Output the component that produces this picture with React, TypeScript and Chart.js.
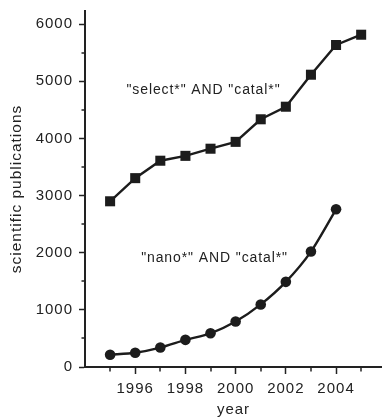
import { useEffect, useRef } from 'react';
import { Chart, registerables } from 'chart.js';

Chart.register(...registerables);

// ---- data ----
const selectYears = [1995, 1996, 1997, 1998, 1999, 2000, 2001, 2002, 2003, 2004, 2005];
const selectCatal = [2900, 3305, 3610, 3695, 3820, 3940, 4335, 4555, 5115, 5635, 5815];
const nanoYears = [1995, 1996, 1997, 1998, 1999, 2000, 2001, 2002, 2003, 2004];
const nanoCatal = [215, 250, 340, 475, 590, 795, 1095, 1490, 2020, 2760];

// tick positions (major ones carry labels)
const xTickValues = [1995, 1996, 1997, 1998, 1999, 2000, 2001, 2002, 2003, 2004, 2005];
const xTickLabels = ['', '1996', '', '1998', '', '2000', '', '2002', '', '2004', ''];
const yTickValues = [0, 500, 1000, 1500, 2000, 2500, 3000, 3500, 4000, 4500, 5000, 5500, 6000];
const yTickLabels = ['0', '', '1000', '', '2000', '', '3000', '', '4000', '', '5000', '', '6000'];

const selectLabel = '"select*" AND "catal*"';
const nanoLabel = '"nano*" AND "catal*"';
const selectLabelAt = { x: 1998.72, y: 4848 };
const nanoLabelAt = { x: 1999.16, y: 1900 };

const xTitle = 'year';
const yTitle = 'scientific publications';

const INK = '#222222';
const FONT = '"Liberation Sans", Arial, Helvetica, sans-serif';

const tickAndLabelPlugin = {
  id: 'customTicks',
  beforeDraw(chart: any) {
    (chart.ctx as any).letterSpacing = '1px';
  },
  afterDraw(chart: any) {
    const ctx = chart.ctx;
    const xs = chart.scales.x;
    const ys = chart.scales.y;
    const area = chart.chartArea;
    ctx.save();
    (ctx as any).letterSpacing = '0px';
    ctx.strokeStyle = INK;
    ctx.lineWidth = 1.5;
    for (const t of xs.ticks) {
      if (t.label !== '') continue;
      const px = Math.round(xs.getPixelForValue(t.value));
      ctx.beginPath();
      ctx.moveTo(px, area.bottom);
      ctx.lineTo(px, area.bottom + 4.5);
      ctx.stroke();
    }
    for (const t of ys.ticks) {
      if (t.label !== '') continue;
      const py = Math.round(ys.getPixelForValue(t.value));
      ctx.beginPath();
      ctx.moveTo(area.left - 3.5, py);
      ctx.lineTo(area.left, py);
      ctx.stroke();
    }
    // annotations
    (ctx as any).letterSpacing = '0.9px';
    ctx.fillStyle = INK;
    ctx.font = `14px ${FONT}`;
    ctx.textAlign = 'center';
    ctx.textBaseline = 'middle';
    ctx.fillText(selectLabel, xs.getPixelForValue(selectLabelAt.x), ys.getPixelForValue(selectLabelAt.y));
    ctx.fillText(nanoLabel, xs.getPixelForValue(nanoLabelAt.x), ys.getPixelForValue(nanoLabelAt.y));
    ctx.restore();
    (ctx as any).letterSpacing = '0px';
  },
};

const zeroPad = (s: any) => {
  s.paddingLeft = 0;
  s.paddingRight = 0;
  s.paddingTop = 0;
  s.paddingBottom = 0;
};

export default function App() {
  const canvasRef = useRef<HTMLCanvasElement | null>(null);

  useEffect(() => {
    if (!canvasRef.current) return;
    Chart.defaults.font.family = FONT;
    Chart.defaults.color = INK;

    const chart = new Chart(canvasRef.current, {
      type: 'line',
      data: {
        datasets: [
          {
            label: selectLabel,
            data: selectYears.map((y, i) => ({ x: y, y: selectCatal[i] })),
            borderColor: '#1c1c1c',
            backgroundColor: '#1c1c1c',
            borderWidth: 2.4,
            pointStyle: 'rect',
            pointRadius: 7.1,
            pointBorderWidth: 0,
            tension: 0,
          },
          {
            label: nanoLabel,
            data: nanoYears.map((y, i) => ({ x: y, y: nanoCatal[i] })),
            borderColor: '#1c1c1c',
            backgroundColor: '#1c1c1c',
            borderWidth: 2.4,
            pointStyle: 'circle',
            pointRadius: 5.3,
            pointBorderWidth: 0,
            tension: 0.25,
          },
        ],
      },
      options: {
        animation: false,
        responsive: false,
        devicePixelRatio: 1,
        layout: { autoPadding: false, padding: { top: 11, right: 0, left: 0, bottom: 0 } },
        plugins: {
          legend: { display: false },
          tooltip: { enabled: false },
        },
        scales: {
          x: {
            type: 'linear',
            position: 'bottom',
            min: 1994,
            max: 2005.83,
            afterBuildTicks: (s: any) => {
              s.ticks = xTickValues.map((v) => ({ value: v }));
            },
            afterFit: (s: any) => {
              s.height = 52;
              zeroPad(s);
            },
            grid: {
              display: true,
              drawOnChartArea: false,
              drawTicks: true,
              tickLength: 7,
              tickWidth: 1.5,
              tickColor: (c: any) => (c.tick && c.tick.label !== '' ? INK : 'rgba(0,0,0,0)'),
            },
            border: { display: true, color: INK, width: 2 },
            ticks: {
              autoSkip: false,
              maxRotation: 0,
              padding: 6,
              color: INK,
              font: { size: 15, family: FONT },
              callback: (_v: any, i: number) => xTickLabels[i],
            },
            title: {
              display: true,
              text: xTitle,
              color: INK,
              font: { size: 15, family: FONT },
              padding: { top: 0, bottom: 0 },
            },
          },
          y: {
            type: 'linear',
            min: 0,
            max: 6230,
            afterBuildTicks: (s: any) => {
              s.ticks = yTickValues.map((v) => ({ value: v }));
            },
            afterFit: (s: any) => {
              s.width = 85;
              zeroPad(s);
            },
            grid: {
              display: true,
              drawOnChartArea: false,
              drawTicks: true,
              tickLength: 6,
              tickWidth: 1.5,
              tickColor: (c: any) => (c.tick && c.tick.label !== '' ? INK : 'rgba(0,0,0,0)'),
            },
            border: { display: true, color: INK, width: 2 },
            ticks: {
              autoSkip: false,
              padding: 6,
              color: INK,
              font: { size: 15, family: FONT },
              callback: (_v: any, i: number) => yTickLabels[i],
            },
            title: {
              display: true,
              text: yTitle,
              color: INK,
              font: { size: 15.5, family: FONT },
              padding: { top: 7, bottom: 0 },
            },
          },
        },
      },
      plugins: [tickAndLabelPlugin],
    } as any);

    return () => chart.destroy();
  }, []);

  return (
    <div style={{ position: 'absolute', left: 0, top: 0, width: 382, height: 419 }}>
      <canvas ref={canvasRef} width={382} height={419} style={{ width: 382, height: 419, display: 'block' }} />
    </div>
  );
}
